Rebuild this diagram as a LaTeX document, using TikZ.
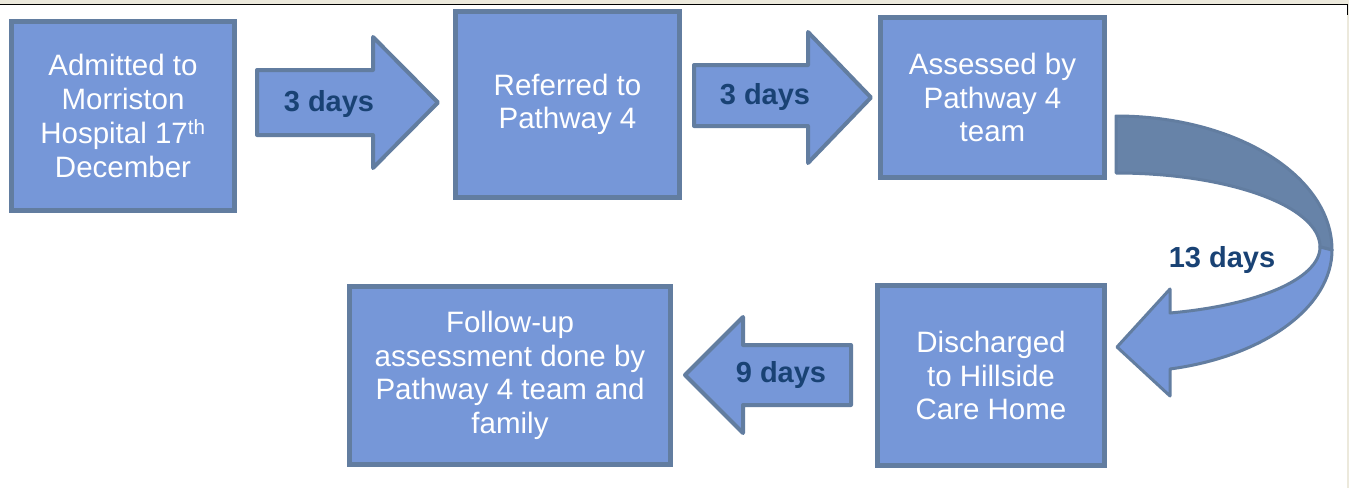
\documentclass[tikz,border=0pt]{standalone}
\usepackage{fontspec}
\setmainfont{Liberation Sans}
\definecolor{boxfill}{RGB}{118,151,216}
\definecolor{boxline}{RGB}{98,125,160}
\definecolor{darkband}{RGB}{103,131,168}
\definecolor{daytext}{RGB}{25,66,116}
\definecolor{beige}{RGB}{236,233,220}
\tikzset{
  stepbox/.style={draw=boxline, fill=boxfill, line width=5pt, text=white,
    align=center, inner sep=0pt, font=\fontsize{29.5}{33.7}\selectfont},
  blockarrow/.style={draw=boxline, fill=boxfill, line width=4pt, line join=round},
  daylabel/.style={text=daytext, font=\fontsize{29}{32}\selectfont\bfseries, inner sep=0pt}
}
\begin{document}
\begin{tikzpicture}[x=1pt,y=-1pt]
\useasboundingbox (0,0) rectangle (1349,488);
\fill[white] (0,0) rectangle (1349,488);
% frame remnants
\fill[beige] (0,0) rectangle (1349,4);
\fill[beige] (1347,0) rectangle (1349,488);
\draw[black, line width=1.3pt] (0,4.6) -- (1348,4.6);
\draw[black, line width=1.3pt] (1347.6,4) -- (1347.6,15);

% boxes
\node[stepbox, minimum width=223pt, minimum height=189pt] (admit) at (123,116)
  {Admitted to\\Morriston\\Hospital 17\textsuperscript{th}\\December};
\node[stepbox, minimum width=224pt, minimum height=186pt] (refer) at (567.5,104.5)
  {Referred to\\Pathway 4};
\node[stepbox, minimum width=224pt, minimum height=160pt] (assess) at (992.5,97.5)
  {Assessed by\\Pathway 4\\team};
\node[stepbox, minimum width=227pt, minimum height=180pt] (disch) at (991,375.5)
  {Discharged\\to Hillside\\Care Home};
\node[stepbox, minimum width=321pt, minimum height=178pt] (follow) at (510,375.5)
  {Follow-up\\assessment done by\\Pathway 4 team and\\family};

% block arrows
\draw[blockarrow] (257,70) -- (373,70) -- (373,37) -- (438,102.5) -- (373,168) -- (373,135) -- (257,135) -- cycle;
\node[daylabel] (d1) at (329,104) {3 days};
\draw[blockarrow] (694,65) -- (808,65) -- (808,32) -- (871,97.5) -- (808,163) -- (808,126) -- (694,126) -- cycle;
\node[daylabel] (d2) at (765,97) {3 days};
\draw[blockarrow] (851,345) -- (743,345) -- (743,317) -- (685,375) -- (743,433) -- (743,405) -- (851,405) -- cycle;
\node[daylabel] (d4) at (781,375) {9 days};

% curved arrow
\draw[draw=boxline, fill=darkband, line width=3pt, line join=round]
  (1116,116) .. controls (1236,116) and (1332,176) .. (1332,250)
  -- (1320,247) .. controls (1320,206) and (1228,173) .. (1116,173) -- cycle;
\draw[draw=boxline, fill=boxfill, line width=3pt, line join=round]
  (1332,250) .. controls (1332,306) and (1266,356) .. (1170,369)
  -- (1170,396) -- (1117,347) -- (1170,289) -- (1170,313)
  .. controls (1260,305) and (1320,278) .. (1320,247) -- cycle;
\node[daylabel] (d3) at (1222,260) {13 days};
\end{tikzpicture}
\end{document}
